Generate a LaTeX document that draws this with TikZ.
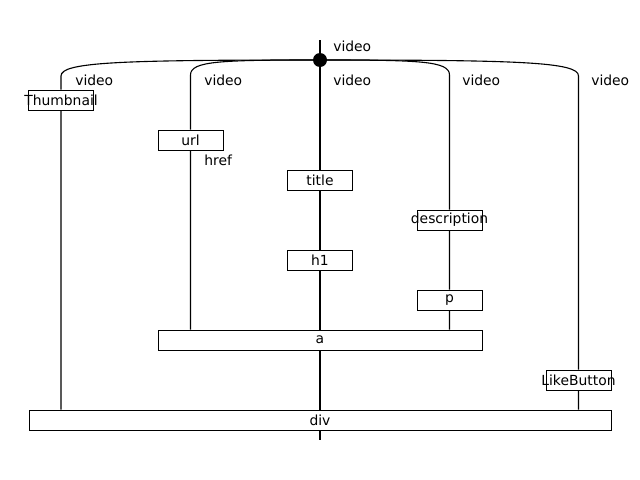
\documentclass[tikz,border=0pt]{standalone}
\usepackage{fontspec}
\setmainfont{DejaVu Sans}
\pgfdeclarelayer{background}
\pgfsetlayers{background,main}
\begin{document}
\begin{tikzpicture}[x=0.72pt,y=-0.72pt,
  font=\fontsize{10}{12}\selectfont,
  boxnode/.style={draw,fill=white,line width=0.7pt,minimum width=65*0.72pt,minimum height=20*0.72pt,inner sep=0pt,
    execute at begin node={\hbox to 0pt\bgroup\hss},execute at end node={\hss\egroup}},
  lbl/.style={anchor=west,inner sep=0pt},
  wire/.style={line width=0.8pt}]
\useasboundingbox (0,0) rectangle (640,480);
% nodes
\coordinate (top) at (320,40);
\coordinate (bot) at (320,440);
\node[circle,fill=black,inner sep=0pt,minimum size=14*0.72pt] (hub) at (320,60) {};
\node[boxnode] (thumb) at (61,100) {Thumbnail};
\node[boxnode] (url) at (190.5,140) {url};
\node[boxnode] (title) at (320,180) {title};
\node[boxnode] (desc) at (449.5,220) {description};
\node[boxnode] (h1) at (320,260) {h1};
\node[boxnode] (p) at (449.5,300) {p};
\node[boxnode,minimum width=324*0.72pt] (a) at (320,340) {a};
\node[boxnode] (like) at (578.5,380) {LikeButton};
\node[boxnode,minimum width=582*0.72pt] (div) at (320,420) {div};
% labels
\node[lbl] (l0) at (333,46) {video};
\node[lbl] (l1) at (75,80) {video};
\node[lbl] (l2) at (204,80) {video};
\node[lbl] (l3) at (333,80) {video};
\node[lbl] (l4) at (462,80) {video};
\node[lbl] (l5) at (591,80) {video};
\node[lbl] (href) at (204,160) {href};
% connectors
\begin{pgfonlayer}{background}
\draw[wire] (top) -- (hub.center) -- (title) -- (h1) -- (a) -- (div) -- (bot);
\draw[wire] (hub.center) .. controls (120,60) and (61,62) .. (61,76) -- (thumb) -- (div.north -| thumb);
\draw[wire] (hub.center) .. controls (220,60) and (190.5,61) .. (190.5,75) -- (url) -- (a.north -| url);
\draw[wire] (hub.center) .. controls (420,60) and (449.5,61) .. (449.5,75) -- (desc) -- (p) -- (a.north -| p);
\draw[wire] (hub.center) .. controls (520,60) and (578.5,62) .. (578.5,76) -- (like) -- (div.north -| like);
\end{pgfonlayer}
\end{tikzpicture}
\end{document}
